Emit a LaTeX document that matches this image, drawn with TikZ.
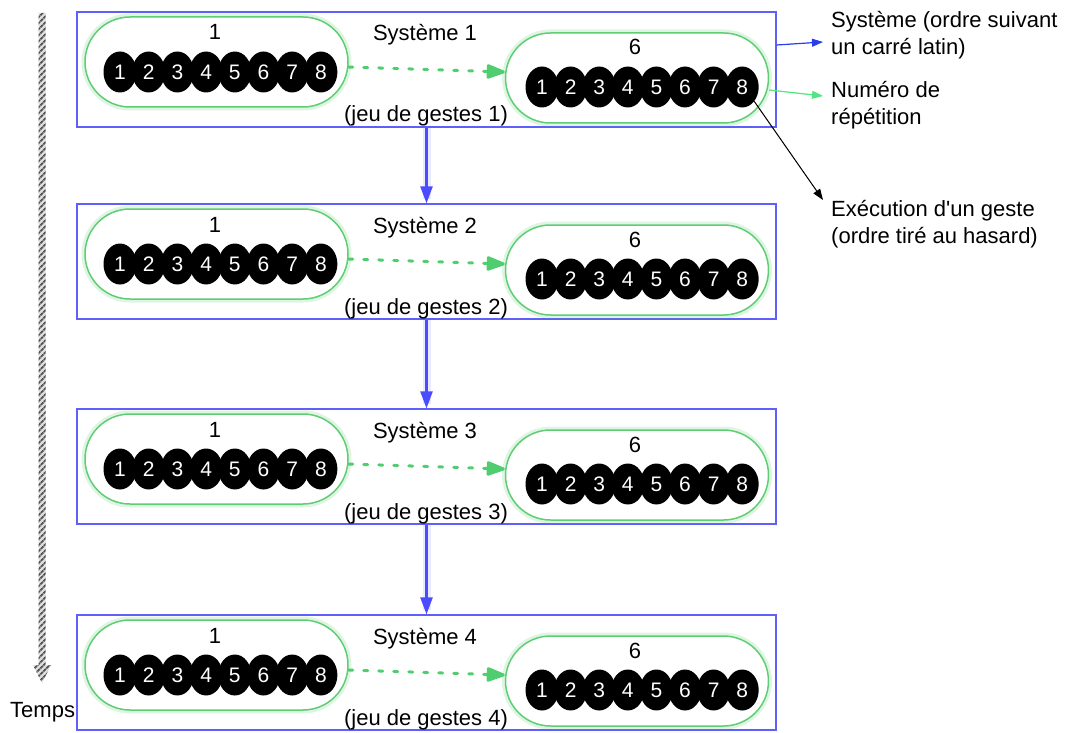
\documentclass[tikz,border=0pt]{standalone}
\usepackage{fontspec}
\setmainfont{Liberation Sans}
\usetikzlibrary{arrows.meta,shapes.geometric,patterns.meta}
\definecolor{sysblue}{RGB}{95,95,250}
\definecolor{seqblue}{RGB}{75,75,255}
\definecolor{pillgreen}{RGB}{95,205,115}
\definecolor{dotgreen}{RGB}{80,205,110}
\definecolor{numgreen}{RGB}{80,230,130}
\definecolor{annblue}{RGB}{40,60,240}
\definecolor{stripegray}{RGB}{85,85,85}
\tikzset{
  txt/.style={font=\fontsize{22}{27}\selectfont, inner sep=0pt},
  sysbox/.style={draw=sysblue, line width=1.2pt, minimum width=699pt, minimum height=115pt, inner sep=0pt},
  pill/.style={draw=pillgreen, line width=1.5pt, fill=white, rounded corners=45pt,
    minimum width=263pt, minimum height=90pt, inner sep=0pt,
    preaction={draw=pillgreen, line width=7pt, opacity=0.2}},
  gest/.style={ellipse, fill=black, text=white, minimum width=33pt, minimum height=41pt,
    inner sep=0pt, font=\fontsize{21}{25}\selectfont},
  rep/.style={draw=dotgreen, line width=3pt, line cap=round, dash pattern=on 4pt off 11pt,
    -{Triangle[length=21pt,width=15pt,round=false]}},
  seq/.style={draw=seqblue, fill=seqblue, line width=2.4pt, -{Triangle[length=17pt,width=12pt]}},
  seqglow/.style={draw=seqblue, line width=8pt, opacity=0.12},
  ann/.style={line width=1.2pt, -{Triangle[length=11pt,width=8pt]}},
}
\begin{document}
\begin{tikzpicture}[x=1pt,y=-1pt]
\useasboundingbox (0,0) rectangle (1068,733);

% time arrow
\fill[gray!25] (38.5,13) -- (45.5,13) -- (45.5,665) -- (51,665) -- (42,683) -- (33,665) -- (38.5,665) -- cycle;
\fill[pattern={Lines[angle=45,distance=4pt,line width=2pt]}, pattern color=stripegray]
  (38.5,13) -- (45.5,13) -- (45.5,665) -- (51,665) -- (42,683) -- (33,665) -- (38.5,665) -- cycle;
\node[txt, anchor=base west] (temps) at (10,717) {Temps};

\foreach \i/\T in {1/12,2/204,3/409,4/615}{
  \node[sysbox] (box\i) at (426.5,{\T+57.5}) {};
  \node[pill] (lp\i) at (216.5,{\T+50}) {};
  \node[pill] (rp\i) at (637,{\T+66}) {};
  \foreach \k in {1,...,8}{
    \node[gest] (lc\i-\k) at ({120+28.7*(\k-1)},{\T+60}) {\k};
    \node[gest] (rc\i-\k) at ({542+28.6*(\k-1)},{\T+75}) {\k};
  }
  \node[txt, anchor=base] (ln\i) at (215,{\T+28}) {1};
  \node[txt, anchor=base] (rn\i) at (635,{\T+43}) {6};
  \node[txt, anchor=base] (sys\i) at (425,{\T+29}) {Système \i};
  \node[txt, anchor=base] (jeu\i) at (426,{\T+110}) {(jeu de gestes \i)};
  \draw[rep] ([yshift=-5pt]lp\i.east) -- ([yshift=6pt]rp\i.west);
}

\foreach \i/\j in {1/2,2/3,3/4}{
  \draw[seqglow] (box\i.south) -- ([yshift=4pt]box\j.north);
  \draw[seq] (box\i.south) -- (box\j.north);
}

% annotations
\node[txt, anchor=west, align=left] (annsys) at (831,35.5) {Système (ordre suivant\\un carré latin)};
\node[txt, anchor=west, align=left] (annrep) at (831,105) {Numéro de\\répétition};
\node[txt, anchor=west, align=left] (anngest) at (831,224) {Exécution d\textquotesingle un geste\\(ordre tiré au hasard)};

\coordinate (tipsys) at (823,42);
\coordinate (tiprep) at (823,96);
\coordinate (tipgest) at (823,200);
\draw[ann, draw=annblue, fill=annblue] ([yshift=24.5pt]box1.east) -- (tipsys);
\draw[ann, draw=numgreen, fill=numgreen] ([yshift=-12pt]rp1.east) -- (tiprep);
\draw[ann, draw=black, fill=black, line width=1pt] (rc1-8.-50) -- (tipgest);
\end{tikzpicture}
\end{document}
